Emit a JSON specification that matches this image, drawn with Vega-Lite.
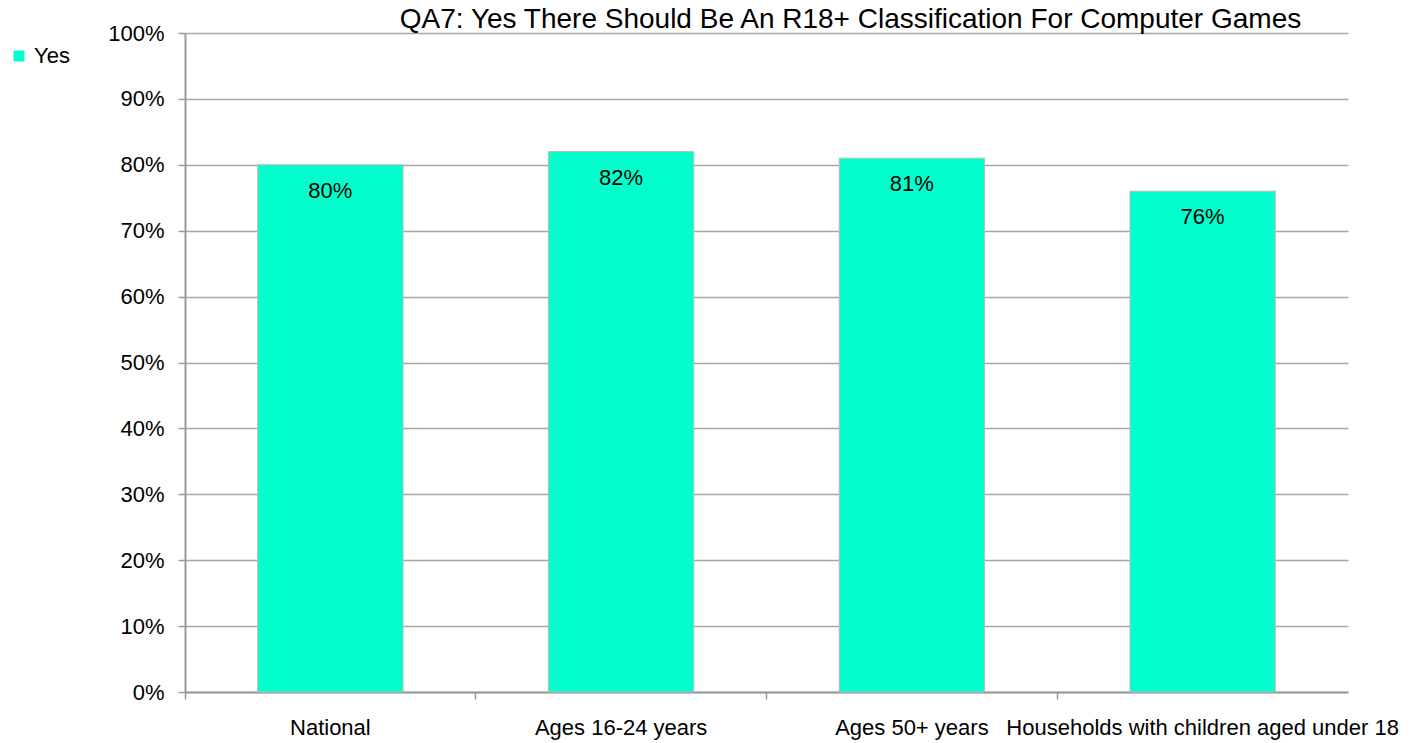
{
  "$schema": "https://vega.github.io/schema/vega-lite/v6.json",
  "width": 1163,
  "height": 659,
  "autosize": "none",
  "padding": {"left": 185, "top": 33, "right": 62, "bottom": 51},
  "background": "white",
  "config": {
    "font": "Liberation Sans",
    "view": {"stroke": null}
  },
  "title": {
    "text": "QA7: Yes There Should Be An R18+ Classification For Computer Games",
    "fontSize": 28,
    "fontWeight": "normal",
    "color": "black",
    "anchor": "middle",
    "baseline": "alphabetic",
    "dx": 84,
    "dy": 26,
    "offset": -8,
    "font": "Liberation Sans"
  },
  "data": {
    "values": [
      {"group": "National", "series": "Yes", "value": 0.80},
      {"group": "Ages 16-24 years", "series": "Yes", "value": 0.82},
      {"group": "Ages 50+ years", "series": "Yes", "value": 0.81},
      {"group": "Households with children aged under 18", "series": "Yes", "value": 0.76}
    ]
  },
  "encoding": {
    "x": {
      "field": "group",
      "type": "nominal",
      "sort": null,
      "scale": {"paddingInner": 0, "paddingOuter": 0},
      "axis": {
        "title": null,
        "labelAngle": 0,
        "labelFontSize": 22,
        "labelColor": "black",
        "labelPadding": 18,
        "bandPosition": 0,
        "labelAlign": "center",
        "tickSize": 7,
        "tickColor": "#999999",
        "tickWidth": 1.5,
        "domainColor": "#999999",
        "domainWidth": 2,
        "grid": false,
        "labelOverlap": false,
        "labelLimit": 0
      }
    },
    "y": {
      "field": "value",
      "type": "quantitative",
      "scale": {"domain": [0, 1]},
      "axis": {
        "title": null,
        "format": ".0%",
        "values": [0, 0.1, 0.2, 0.3, 0.4, 0.5, 0.6, 0.7, 0.8, 0.9, 1],
        "labelFontSize": 22,
        "labelColor": "black",
        "labelPadding": 14,
        "tickSize": 7,
        "tickColor": "#999999",
        "tickWidth": 1.5,
        "domainColor": "#999999",
        "domainWidth": 2,
        "grid": true,
        "gridColor": "#A6A6A6",
        "gridWidth": 1.5
      }
    }
  },
  "layer": [
    {
      "mark": {"type": "bar", "stroke": "#BBBBBB", "strokeWidth": 1, "width": {"band": 0.5}},
      "encoding": {
        "color": {
          "field": "series",
          "type": "nominal",
          "scale": {"range": ["#00FFCC"]},
          "legend": {
            "title": null,
            "orient": "none",
            "legendX": -177,
            "legendY": 12,
            "symbolType": "square",
            "symbolSize": 120,
            "symbolStrokeWidth": 0,
            "labelFontSize": 22,
            "labelColor": "black",
            "labelOffset": 4
          }
        }
      }
    },
    {
      "mark": {"type": "text", "dy": 26, "baseline": "middle", "fontSize": 22, "color": "black"},
      "encoding": {
        "text": {"field": "value", "type": "quantitative", "format": ".0%"}
      }
    }
  ]
}
